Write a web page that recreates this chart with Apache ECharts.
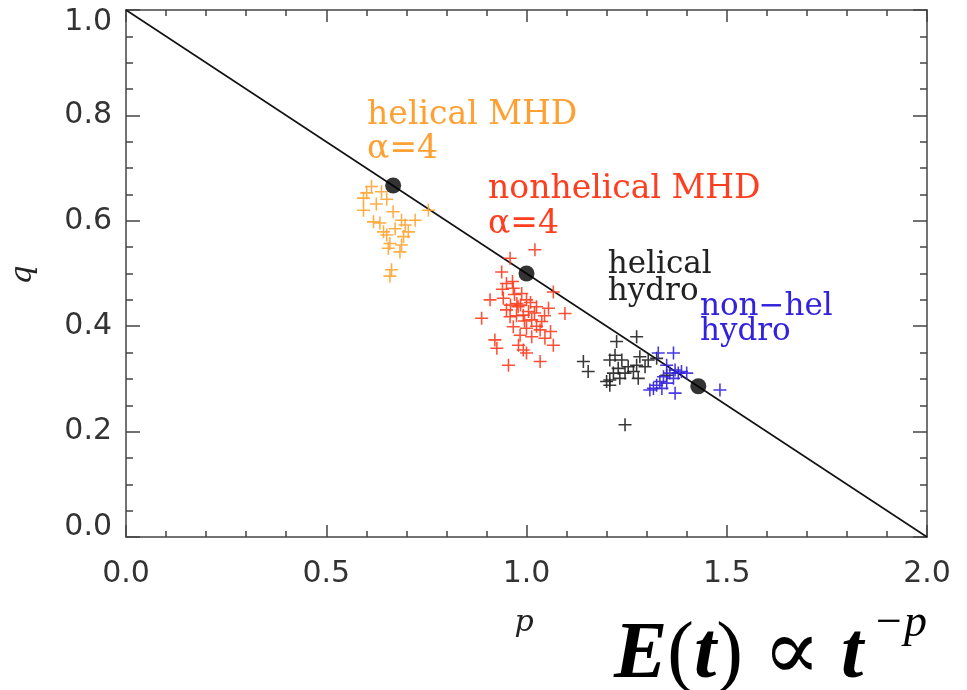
<!DOCTYPE html>
<html>
<head>
<meta charset="utf-8">
<script src="https://cdn.jsdelivr.net/npm/echarts@6/dist/echarts.min.js"></script>
<style>html,body{margin:0;padding:0;background:#fff}#c{width:967px;height:690px}</style>
</head>
<body>
<div id="c"></div>
<script>
// ---- data ----
const xTicks = [0.0, 0.5, 1.0, 1.5, 2.0];
const yTicks = [0.0, 0.2, 0.4, 0.6, 0.8, 1.0];
const relationLine = [[0, 1], [2, 0]];
const theoryPoints = [[0.667, 0.667], [1.0, 0.5], [1.429, 0.286]];
const helicalMHD = [
  [0.613,0.665],[0.601,0.653],[0.638,0.655],[0.593,0.643],[0.651,0.641],[0.593,0.620],
  [0.667,0.617],[0.755,0.620],[0.618,0.598],[0.634,0.596],[0.688,0.601],[0.722,0.601],
  [0.697,0.592],[0.643,0.579],[0.651,0.573],[0.705,0.579],[0.693,0.570],[0.659,0.557],
  [0.655,0.548],[0.688,0.554],[0.684,0.541],[0.663,0.507],[0.659,0.495],[0.625,0.632],[0.672,0.585]
];
const nonhelicalMHD = [
  [1.021,0.545],[0.959,0.529],[0.938,0.503],[0.950,0.481],[0.967,0.472],[0.988,0.462],
  [1.067,0.465],[0.909,0.450],[0.942,0.453],[0.976,0.443],[1.000,0.450],[1.025,0.437],
  [1.055,0.434],[1.096,0.424],[0.888,0.415],[0.950,0.431],[0.959,0.418],[0.992,0.421],
  [1.013,0.412],[1.038,0.409],[0.967,0.399],[1.000,0.396],[1.034,0.393],[0.984,0.383],
  [1.013,0.380],[0.921,0.374],[1.046,0.377],[1.067,0.364],[0.926,0.358],[0.980,0.364],
  [0.992,0.355],[1.000,0.349],[1.034,0.333],[0.955,0.326],[0.979,0.437],[1.005,0.428],
  [0.970,0.460],[0.985,0.440],[1.010,0.445],[1.020,0.425],[0.960,0.440],[0.995,0.410],
  [1.025,0.400],[0.975,0.420],[1.045,0.420],[0.940,0.470],[1.060,0.390],[0.965,0.485]
];
const helicalHydro = [
  [1.275,0.380],[1.225,0.371],[1.142,0.333],[1.154,0.314],[1.221,0.345],[1.208,0.336],
  [1.238,0.336],[1.283,0.342],[1.304,0.336],[1.325,0.339],[1.229,0.320],[1.254,0.323],
  [1.275,0.326],[1.296,0.323],[1.217,0.311],[1.246,0.311],[1.267,0.314],[1.208,0.298],
  [1.233,0.301],[1.279,0.301],[1.200,0.295],[1.208,0.288],[1.350,0.307],[1.246,0.213]
];
const nonhelHydro = [
  [1.329,0.349],[1.367,0.349],[1.350,0.326],[1.371,0.317],[1.387,0.314],[1.400,0.311],
  [1.358,0.311],[1.342,0.304],[1.367,0.301],[1.333,0.295],[1.350,0.292],[1.325,0.288],
  [1.317,0.282],[1.338,0.282],[1.308,0.279],[1.371,0.273],[1.483,0.279],[1.379,0.311]
];
// annotations: [text, p, q(baseline), colour, fontSize]
const notes = [
  ['helical MHD', 0.602, 0.780, '#FFA033', 33],
  ['\u03b1=4', 0.602, 0.715, '#FFA033', 33],
  ['nonhelical MHD', 0.904, 0.639, '#FF3D1F', 33],
  ['\u03b1=4', 0.904, 0.573, '#FF3D1F', 33],
  ['helical', 1.203, 0.497, '#222222', 31],
  ['hydro', 1.203, 0.446, '#222222', 31],
  ['non\u2212hel', 1.433, 0.417, '#3322DD', 31],
  ['hydro', 1.433, 0.370, '#3322DD', 31]
];

const PLUS = 'path://M0.44,0 H0.56 V0.44 H1 V0.56 H0.56 V1 H0.44 V0.56 H0 V0.44 H0.44 Z';
const AX = '#444';
const labelFont = {fontFamily: 'DejaVu Sans', fontSize: 30, color: '#333'};

function xAxisCfg(pos) {
  return {
    type: 'value', position: pos, min: xTicks[0], max: xTicks[xTicks.length-1], interval: 0.5,
    axisLine: {show: true, onZero: false, lineStyle: {color: AX, width: 1.5}},
    axisTick: {show: true, inside: true, length: 12, lineStyle: {color: AX, width: 1.5}},
    minorTick: {show: true, splitNumber: 5, length: 6, lineStyle: {color: AX, width: 1.5}},
    splitLine: {show: false},
    axisLabel: pos === 'bottom' ? Object.assign({show: true, margin: 22,
      formatter: v => v.toFixed(1)}, labelFont) : {show: false}
  };
}
function yAxisCfg(pos) {
  return {
    type: 'value', position: pos, min: yTicks[0], max: yTicks[yTicks.length-1], interval: 0.2,
    axisLine: {show: true, onZero: false, lineStyle: {color: AX, width: 1.5}},
    axisTick: {show: true, inside: true, length: 14, lineStyle: {color: AX, width: 1.5}},
    minorTick: {show: true, splitNumber: 4, length: 7, lineStyle: {color: AX, width: 1.5}},
    splitLine: {show: false},
    axisLabel: pos === 'left' ? Object.assign({show: true, margin: 14,
      formatter: v => {
        const s = v.toFixed(1);
        if (Math.abs(v - 1) < 1e-9) return '{t|' + s + '}';
        if (Math.abs(v) < 1e-9) return '{b|' + s + '}';
        return s;
      },
      rich: {
        t: Object.assign({padding: [24, 0, 0, 0]}, labelFont),
        b: Object.assign({padding: [0, 0, 20, 0]}, labelFont)
      }}, labelFont) : {show: false}
  };
}

function plusSeries(name, data, color) {
  return {
    name, type: 'scatter', data, symbol: PLUS, symbolSize: 13,
    itemStyle: {color: color, opacity: 0.9}, z: 3, silent: true
  };
}

const chart = echarts.init(document.getElementById('c'), null, {renderer: 'canvas'});
chart.setOption({
  animation: false,
  backgroundColor: '#fff',
  grid: {left: 126, right: 40, top: 10, bottom: 153},
  xAxis: [xAxisCfg('bottom'), xAxisCfg('top')],
  yAxis: [yAxisCfg('left'), yAxisCfg('right')],
  series: [
    {type: 'line', data: relationLine, symbol: 'none', lineStyle: {color: '#111', width: 1.6}, z: 2, silent: true},
    plusSeries('helical MHD', helicalMHD, '#FFA533'),
    plusSeries('nonhelical MHD', nonhelicalMHD, '#FF3D1F'),
    plusSeries('helical hydro', helicalHydro, '#222222'),
    plusSeries('non-hel hydro', nonhelHydro, '#3322DD'),
    {type: 'scatter', data: theoryPoints, symbol: 'circle', symbolSize: 16,
     itemStyle: {color: '#000'}, z: 4, silent: true}
  ]
});

const g = [];
notes.forEach(n => {
  const px = chart.convertToPixel({xAxisIndex: 0, yAxisIndex: 0}, [n[1], n[2]]);
  g.push({type: 'text', x: px[0], y: px[1] - 0.33 * n[4], z: 10,
    style: {text: n[0], fill: n[3], font: n[4] + 'px "DejaVu Serif"', align: 'left', verticalAlign: 'middle'}});
});
// axis titles
g.push({type: 'text', x: 524, y: 623, z: 10,
  style: {text: 'p', fill: '#222', font: 'italic 30px "DejaVu Serif"', align: 'center', verticalAlign: 'middle'}});
g.push({type: 'text', x: 23, y: 275, rotation: Math.PI / 2, z: 10,
  style: {text: 'q', fill: '#222', font: 'italic 30px "DejaVu Serif"', align: 'center', verticalAlign: 'middle'}});
// formula
g.push({type: 'text', x: 614, y: 656, z: 10,
  style: {
    text: '{i|E}{n|(}{i|t}{n|)}{n| }{m|\u221d}{n| }{i|t}',
    align: 'left', verticalAlign: 'middle',
    rich: {
      i: {fontFamily: 'Liberation Serif', fontStyle: 'italic', fontWeight: 'bold', fontSize: 80, fill: '#000', color: '#000'},
      n: {fontFamily: 'Liberation Serif', fontSize: 80, fill: '#000', color: '#000'},
      m: {fontFamily: 'Liberation Serif, DejaVu Serif', fontSize: 86, fill: '#000', color: '#000'}
    }
  }});
g.push({type: 'text', x: 873, y: 624, z: 10,
  style: {text: '\u2212p', fill: '#000', font: 'italic 46px "Liberation Serif"', align: 'left', verticalAlign: 'middle'}});
chart.setOption({graphic: g});
</script>
</body>
</html>
